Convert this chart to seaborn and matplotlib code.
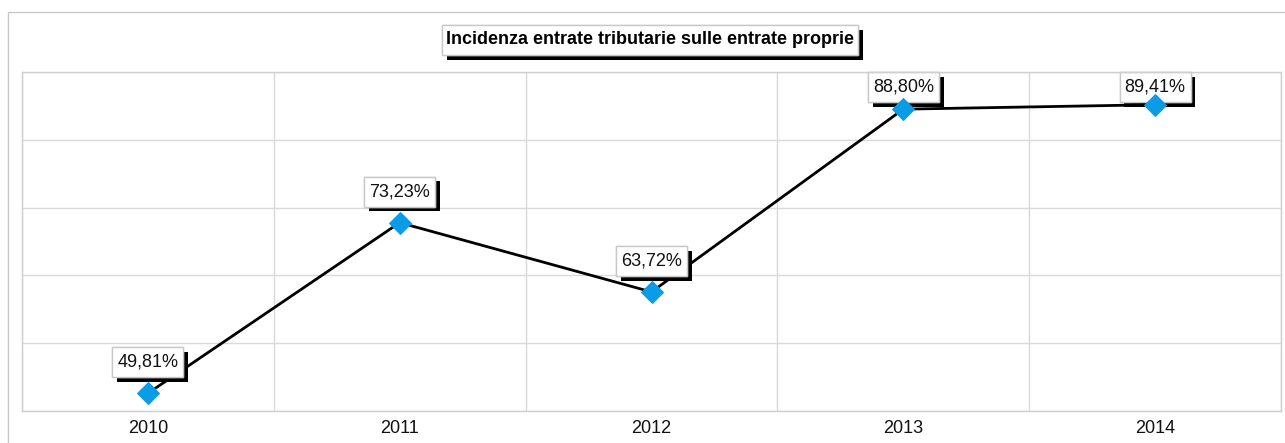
import numpy as np
import matplotlib
matplotlib.use("Agg")
import matplotlib.pyplot as plt
import matplotlib.patheffects as pe
from matplotlib.patches import Rectangle
from matplotlib.path import Path
import seaborn as sns
import pandas as pd

years = ["2010", "2011", "2012", "2013", "2014"]
values = [49.81, 73.23, 63.72, 88.80, 89.41]
labels = ["49,81%", "73,23%", "63,72%", "88,80%", "89,41%"]
title = "Incidenza entrate tributarie sulle entrate proprie"

sns.set_theme(style="white")
plt.rcParams['font.family'] = ['Liberation Sans', 'DejaVu Sans']

W, H = 1285, 443
DPI = 100
PX = 72 / DPI  # points per pixel
fig = plt.figure(figsize=(W / DPI, H / DPI), dpi=DPI)
ax = fig.add_axes([22 / W, 1 - 411 / H, (1281 - 22) / W, (411 - 72) / H])

df = pd.DataFrame({"year": years, "value": values})
sns.lineplot(data=df, x="year", y="value", ax=ax, color="black", lw=2.0,
             marker="D", markersize=10.8, markerfacecolor="#0C9BE6",
             markeredgecolor="#0C9BE6", zorder=3)

ymin, ymax = 47.38, 93.9
ax.set_ylim(ymin, ymax)
ax.set_xlim(-0.5, len(years) - 0.5)
ax.set_yticks(np.linspace(ymin, ymax, 6))
ax.set_yticklabels([])
ax.set_xticks(range(len(years)))
ax.set_xticklabels(years, fontsize=13, color="#111111")
ax.set_xticks(np.arange(-0.5, len(years)), minor=True)
ax.tick_params(axis="x", which="major", length=0, pad=6.5)
ax.tick_params(axis="x", which="minor", length=10, width=1, color="#d0d0d0", direction="out")
ax.tick_params(axis="y", length=0)
ax.set_xlabel("")
ax.set_ylabel("")
ax.grid(True, axis="y", color="#d9d9d9", lw=1)
ax.grid(True, axis="x", which="minor", color="#d9d9d9", lw=1)
for s in ax.spines.values():
    s.set_color("#cfcfcf")
    s.set_linewidth(1)


def fixed_box(pad_x, box_h):
    def box(x0, y0, width, height, mutation_size):
        cy = y0 + height / 2
        l, r = x0 - pad_x, x0 + width + pad_x
        b, t = cy - box_h / 2, cy + box_h / 2
        return Path([(l, b), (r, b), (r, t), (l, t), (l, b)], closed=True)
    return box


shadow = [pe.withSimplePatchShadow(offset=(3.5, -3.5), shadow_rgbFace="black", alpha=1.0), pe.Normal()]
BOX_H = 30
GAP = 16  # px between marker centre and box bottom

fig.canvas.draw()
ax_top_px = ax.get_window_extent().y1
for i, (v, lab) in enumerate(zip(values, labels)):
    py = ax.transData.transform((i, v))[1]
    if py + GAP + BOX_H > ax_top_px:
        t = ax.annotate(lab, xy=(i, 1.0), xycoords=("data", "axes fraction"),
                        xytext=(0, -(BOX_H / 2 + 0.5) * PX), textcoords="offset points",
                        ha="center", va="center", fontsize=13, color="#111111", zorder=2,
                        bbox=dict(boxstyle=fixed_box(5, BOX_H), fc="white", ec="#c8c8c8", lw=1))
    else:
        t = ax.annotate(lab, xy=(i, v), xytext=(0, (GAP + BOX_H / 2) * PX), textcoords="offset points",
                        ha="center", va="center", fontsize=13, color="#111111", zorder=5,
                        bbox=dict(boxstyle=fixed_box(5, BOX_H), fc="white", ec="#c8c8c8", lw=1))
    t.get_bbox_patch().set_path_effects(shadow)

tt = fig.text(650 / W, 1 - 40 / H, title, ha="center", va="center", fontsize=13,
              fontweight="bold", color="black",
              bbox=dict(boxstyle=fixed_box(4, 30), fc="white", ec="#c8c8c8", lw=1))
tt.get_bbox_patch().set_path_effects(shadow)

fig.patches.append(Rectangle((8 / W, -0.1), 1.5, 1 - 12 / H + 0.1, transform=fig.transFigure,
                             fill=False, ec="#c8c8c8", lw=1, zorder=0))

fig.savefig("out.png", dpi=DPI)
